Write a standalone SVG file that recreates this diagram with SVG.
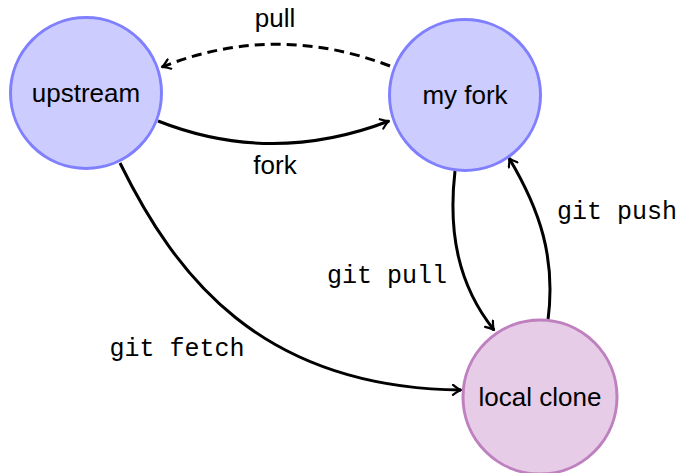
<svg xmlns="http://www.w3.org/2000/svg" width="680" height="473" viewBox="0 0 680 473">
<style>
.blue{fill:#ccccff;stroke:#8080ff;stroke-width:3}
.purple{fill:#e6cce6;stroke:#bf80bf;stroke-width:3}
.lbl{font-family:"Liberation Sans",Arial,sans-serif;font-size:26px;fill:#000;text-anchor:middle}
.mono{font-family:"Liberation Mono","Courier New",monospace;font-size:25px;fill:#000;text-anchor:middle}
.edge{fill:none;stroke:#000;stroke-width:3;marker-end:url(#arr)}
</style>
<defs>
<marker id="arr" viewBox="-10 -6 12 12" refX="0" refY="0" markerWidth="12" markerHeight="12" markerUnits="userSpaceOnUse" orient="auto">
<path d="M -8 -5 Q -3 -1 0 0 Q -3 1 -8 5" fill="none" stroke="#000" stroke-width="2.2" stroke-linecap="round" stroke-linejoin="round"/>
</marker>
</defs>
<g id="connectors">
<path class="edge" d="M 390 66 Q 275 22 162 67" stroke-dasharray="10,6"/>
<path class="edge" d="M 158 121 Q 272 166 389 121"/>
<path class="edge" d="M 455 171 C 448 232 458 285 494 330"/>
<path class="edge" d="M 548 320 C 556 258 540 210 509 158"/>
<path class="edge" d="M 120 163 C 175 275 260 388 461 390"/>
<text class="lbl" x="275" y="27">pull</text>
<text class="lbl" x="275" y="174">fork</text>
<text class="mono" x="617" y="219">git push</text>
<text class="mono" x="387" y="283">git pull</text>
<text class="mono" x="177" y="356">git fetch</text>
</g>
<g id="upstream">
<circle class="blue" cx="86" cy="93" r="75.5"/>
<text class="lbl" x="86" y="102">upstream</text>
</g>
<g id="myfork">
<circle class="blue" cx="465" cy="95" r="75.5"/>
<text class="lbl" x="465" y="104">my fork</text>
</g>
<g id="localclone">
<circle class="purple" cx="540" cy="397" r="77"/>
<text class="lbl" x="540" y="406">local clone</text>
</g>
</svg>
